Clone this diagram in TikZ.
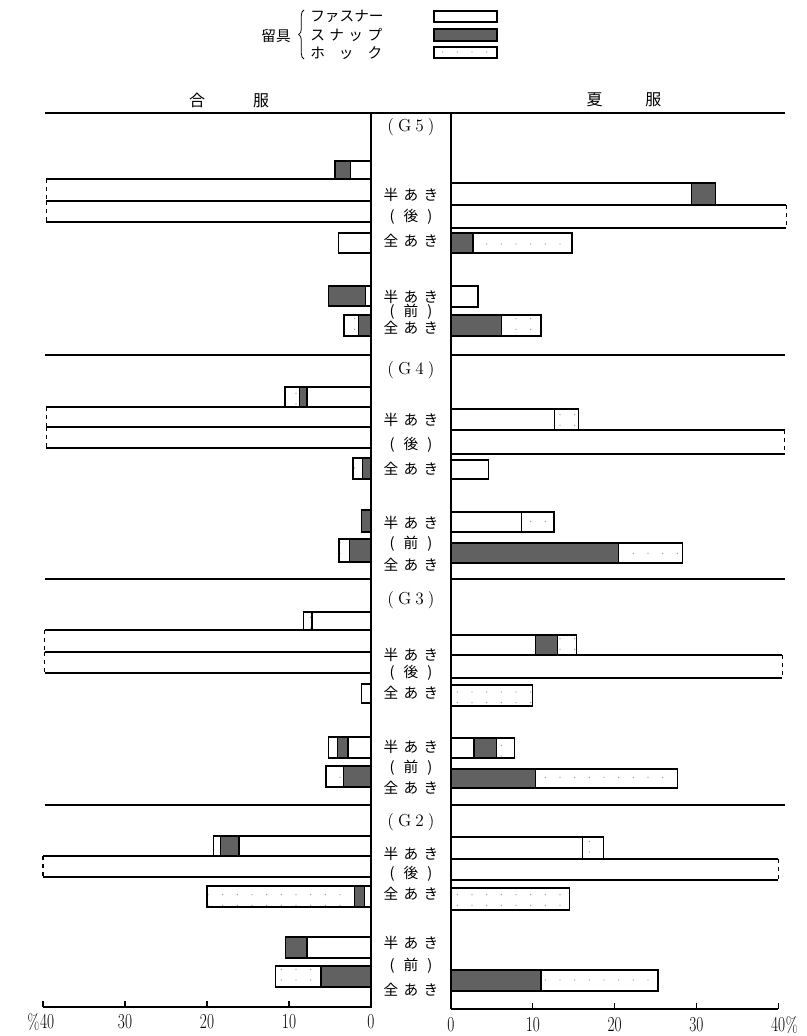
\documentclass[tikz,border=0pt]{standalone}
\usepackage{fontspec}
\newfontfamily\jp{Noto Sans CJK JP}
\usetikzlibrary{patterns,decorations.pathreplacing}

\pgfdeclarepatternformonly{hookdots}{\pgfqpoint{-1pt}{-1pt}}{\pgfqpoint{11pt}{8pt}}{\pgfqpoint{11pt}{8pt}}{%
  \pgfpathcircle{\pgfqpoint{2pt}{2pt}}{0.45pt}\pgfusepath{fill}}

\tikzset{
  fas/.style={draw,line width=0.9pt,fill=white},
  snp/.style={draw,line width=0.9pt,fill=black!62},
  hok/.style={draw,line width=0.9pt,preaction={fill=white},pattern=hookdots,pattern color=black!45},
  longbar/.style={line width=0.9pt},
  lbl/.style={font=\jp\fontsize{11}{12}\selectfont,inner sep=0pt},
  hdr/.style={font=\jp\fontsize{12}{13}\selectfont,inner sep=0pt},
  glbl/.style={font=\fontsize{13}{14}\selectfont,inner sep=0pt},
  num/.style={font=\fontsize{16}{17}\selectfont,inner sep=0pt},
}
\newcommand{\tallnum}[1]{\scalebox{0.72}[1]{#1}}

\begin{document}
\begin{tikzpicture}[x=0.75pt,y=0.75pt,yscale=-1]
\useasboundingbox (0,0) rectangle (807,1036);

% legend
\node[lbl] (tomegu) at (276,36) {留具};
\draw[line width=0.6pt,decorate,decoration={brace,amplitude=4pt}] (304,59) -- (304,10);
\node[lbl,anchor=west] (lgfas) at (310,16) {\makebox[54pt][s]{フ\hfill ァ\hfill ス\hfill ナ\hfill ー}};
\node[lbl,anchor=west] (lgsnp) at (310,35) {\makebox[54pt][s]{ス\hfill ナ\hfill ッ\hfill プ}};
\node[lbl,anchor=west] (lghok) at (310,53) {\makebox[54pt][s]{ホ\hfill ッ\hfill ク}};
\draw[fas] (434,11) rectangle (497,22);
\draw[snp] (434,29) rectangle (497,41);
\draw[hok] (434,47) rectangle (497,58);

% headers
\node[hdr] (aifuku) at (229,100) {合\hspace{36pt}服};
\node[hdr] (natsufuku) at (624,100) {夏\hspace{32pt}服};

% group lines
\foreach \yy in {355,579,805}
  \draw[line width=1pt] (45,\yy) -- (785,\yy);

% left side (合服)
\begin{scope}[shift={(371,0)},xscale=-8.2]
  \foreach \ya/\yb/\a/\b/\c in {161/179/2.5/4.4/4.4, 233/253/4.0/4.0/4.0,
      286/306/0.7/5.2/5.2, 315/336/0/1.5/3.3, 387/407/7.8/8.7/10.5,
      458/479/0/1.0/2.2, 510/532/0/1.2/1.2, 539/562/0/2.6/3.9,
      612/630/7.2/7.2/8.2, 684/703/1.2/1.2/1.2, 737/758/2.8/4.1/5.2,
      766/787/0/3.4/5.5, 836/856/16.1/18.4/19.2, 886/907/0.8/2.0/20.0,
      937/958/7.8/10.4/10.4, 966/987/0/6.1/11.6}{
    \draw[fas] (0,\ya) rectangle (\a,\yb);
    \draw[snp] (\a,\ya) rectangle (\b,\yb);
    \draw[hok] (\b,\ya) rectangle (\c,\yb);
  }
  \foreach \ya/\yb/\c in {179/201/39.6, 201/222/39.6, 407/427/39.6, 427/448/39.6,
      630/652/39.8, 652/673/39.8, 856/877/40.0}{
    \draw[longbar] (0,\ya) -- (\c,\ya);
    \draw[longbar,dashed] (\c,\ya) -- (\c,\yb);
    \draw[longbar] (\c,\yb) -- (0,\yb);
  }
  % axis
  \draw[line width=1pt] (0,1007) -- (40,1007);
  \foreach \p in {0,10,20,30,40}
    \draw[line width=0.8pt] (\p,1007) -- (\p,1001);
  \foreach \p in {0,10,20,30}
    \node[num] (lt\p) at (\p,1022) {\tallnum{\p}};
  \node[num] (lt40) at (39.5,1022) {\tallnum{40}};
\end{scope}
\node[num,anchor=east] (lpct) at (lt40.west) {\tallnum{\%}};

% right side (夏服)
\begin{scope}[shift={(451,0)},xscale=8.18]
  \foreach \ya/\yb/\a/\b/\c in {183/205/29.4/32.3/32.3, 233/253/0/2.7/14.8,
      286/307/3.3/3.3/3.3, 315/336/0/6.2/11.0, 409/430/12.7/12.7/15.6,
      460/479/4.6/4.6/4.6, 512/532/8.6/8.6/12.6, 543/563/0/20.5/28.3,
      635/655/10.3/13.0/15.3, 685/706/0/0/10.0, 738/758/2.8/5.6/7.8,
      769/788/0/10.3/27.7, 837/859/16.1/16.1/18.6, 888/910/0/0/14.5,
      970/991/0/11.0/25.3}{
    \draw[fas] (0,\ya) rectangle (\a,\yb);
    \draw[snp] (\a,\ya) rectangle (\b,\yb);
    \draw[hok] (\b,\ya) rectangle (\c,\yb);
  }
  \foreach \ya/\yb/\c in {205/228/41.0, 430/454/40.8, 655/678/40.5, 859/880/40.0}{
    \draw[longbar] (0,\ya) -- (\c,\ya);
    \draw[longbar,dashed] (\c,\ya) -- (\c,\yb);
    \draw[longbar] (\c,\yb) -- (0,\yb);
  }
  % axis
  \draw[line width=1pt] (0,1009) -- (40,1009);
  \foreach \p in {0,10,20,30,40}
    \draw[line width=0.8pt] (\p,1009) -- (\p,1003);
  \foreach \p in {0,10,20,30}
    \node[num] (rt\p) at (\p,1025) {\tallnum{\p}};
  \node[num] (rt40) at (40,1025) {\tallnum{40}};
\end{scope}
\node[num,anchor=west] (rpct) at (rt40.east) {\tallnum{\%}};

% centre column
\fill[white] (371,113) rectangle (451,1008);
\draw[line width=0.9pt] (371,113) -- (371,1008);
\draw[line width=0.9pt] (451,113) -- (451,1008);
\draw[line width=1pt] (45,113) -- (785,113);

% Text Node
\foreach \g/\yy in {5/127,4/370,3/600,2/822}
  \node[glbl] (g\g) at (411,\yy) {(\hspace{3pt}G\hspace{3pt}\g\hspace{3pt})};
\foreach \n/\yy/\w/\t in {g5hb/195/41/{半\hfill あ\hfill き}, g5b/217/32/{(\hfill 後\hfill )}, g5zb/241/41/{全\hfill あ\hfill き},
    g5hf/297/41/{半\hfill あ\hfill き}, g5f/312/32/{(\hfill 前\hfill )}, g5zf/328/41/{全\hfill あ\hfill き},
    g4hb/420/41/{半\hfill あ\hfill き}, g4b/445/32/{(\hfill 後\hfill )}, g4zb/469/41/{全\hfill あ\hfill き},
    g4hf/523/41/{半\hfill あ\hfill き}, g4f/544/32/{(\hfill 前\hfill )}, g4zf/565/41/{全\hfill あ\hfill き},
    g3hb/655/41/{半\hfill あ\hfill き}, g3b/673/32/{(\hfill 後\hfill )}, g3zb/693/41/{全\hfill あ\hfill き},
    g3hf/747/41/{半\hfill あ\hfill き}, g3f/768/32/{(\hfill 前\hfill )}, g3zf/788/41/{全\hfill あ\hfill き},
    g2hb/854/41/{半\hfill あ\hfill き}, g2b/874/32/{(\hfill 後\hfill )}, g2zb/894/41/{全\hfill あ\hfill き},
    g2hf/943/41/{半\hfill あ\hfill き}, g2f/966/32/{(\hfill 前\hfill )}, g2zf/990/41/{全\hfill あ\hfill き}}
  \node[lbl] (\n) at (411,\yy) {\makebox[\w pt][s]{\t}};

\end{tikzpicture}
\end{document}
